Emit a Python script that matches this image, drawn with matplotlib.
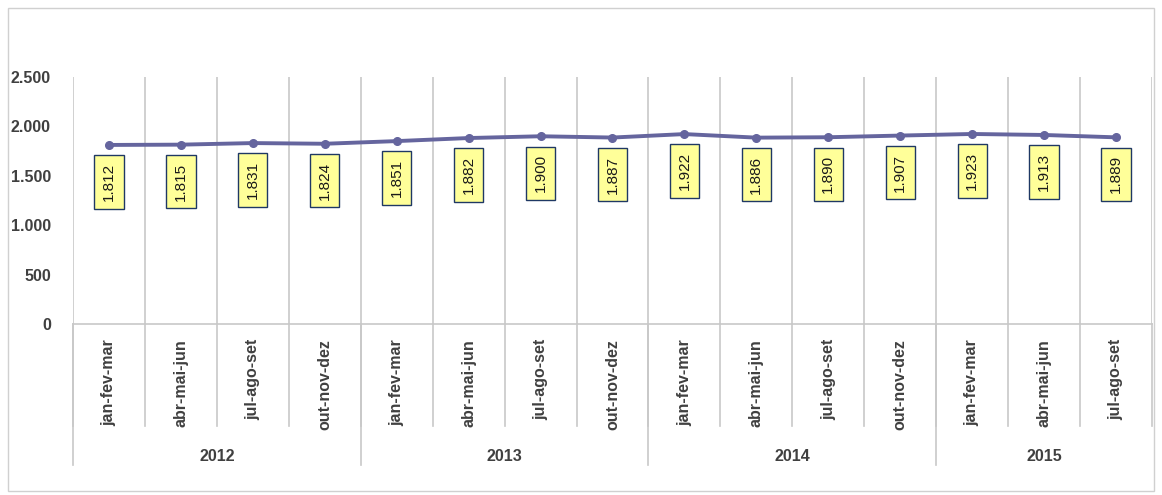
import numpy as np
import matplotlib.pyplot as plt
from matplotlib.patches import Rectangle

plt.rcParams['font.family'] = ['Liberation Sans', 'DejaVu Sans']

# Data
periods = ['jan-fev-mar', 'abr-mai-jun', 'jul-ago-set', 'out-nov-dez',
           'jan-fev-mar', 'abr-mai-jun', 'jul-ago-set', 'out-nov-dez',
           'jan-fev-mar', 'abr-mai-jun', 'jul-ago-set', 'out-nov-dez',
           'jan-fev-mar', 'abr-mai-jun', 'jul-ago-set']
years = ['2012', '2013', '2014', '2015']
year_sizes = [4, 4, 4, 3]
values = [1812, 1815, 1831, 1824, 1851, 1882, 1900, 1887,
          1922, 1886, 1890, 1907, 1923, 1913, 1889]

line_color = '#65659E'
grid_color = '#C8C8C8'
text_color = '#404040'

fig = plt.figure(figsize=(11.62, 4.95), dpi=100)
fig.patches.append(Rectangle((0.007, 0.008), 0.986, 0.976, transform=fig.transFigure,
                             fill=False, edgecolor='#D0D0D0', linewidth=1))
ax = fig.add_axes([0.0628, 0.3455, 0.9286, 0.499])

n = len(values)
x = np.arange(n)
ax.plot(x, values, color=line_color, linewidth=2.8, marker='o', markersize=5.5,
        zorder=3)

for xi, v in zip(x, values):
    txt = f'{v:,}'.replace(',', '.')
    ax.annotate(txt, (xi, v), xytext=(0, -37), textcoords='offset pixels',
                rotation=90, ha='center', va='center', fontsize=11, color='#1A1A1A',
                bbox=dict(boxstyle='square,pad=0.5', fc='#FFFF99', ec='#1F3864', lw=1))

ax.set_xlim(-0.5, n - 0.5)
ax.set_ylim(0, 2500)
ax.set_yticks(np.arange(0, 2501, 500))
ax.set_yticklabels([f'{t:,}'.replace(',', '.') for t in range(0, 2501, 500)],
                   fontsize=11.5, fontweight='bold', color=text_color)
ax.tick_params(axis='y', length=0, pad=16)
ax.tick_params(axis='x', length=0, labelbottom=False)

for s in ['top', 'right', 'left']:
    ax.spines[s].set_visible(False)
ax.spines['bottom'].set_color(grid_color)
ax.spines['bottom'].set_linewidth(1.2)

# vertical gridlines at category boundaries
for b in np.arange(-0.5, n, 1.0):
    ax.axvline(b, color=grid_color, linewidth=1.2, zorder=0)

trans = ax.get_xaxis_transform()
# category labels and their separators below axis
for i, p in enumerate(periods):
    ax.text(i, -0.06, p, rotation=90, ha='center', va='top', fontsize=11.5,
            fontweight='bold', color=text_color, transform=trans)
for b in np.arange(-0.5, n, 1.0):
    ax.plot([b, b], [0, -0.415], color=grid_color, linewidth=1.2,
            transform=trans, clip_on=False)

# year group labels
start = 0
for yr, size in zip(years, year_sizes):
    center = start + (size - 1) / 2
    ax.text(center, -0.535, yr, ha='center', va='center', fontsize=11.5,
            fontweight='bold', color=text_color, transform=trans)
    ax.plot([start - 0.5, start - 0.5], [0, -0.57], color=grid_color,
            linewidth=1.2, transform=trans, clip_on=False)
    start += size

fig.savefig('out.png', dpi=100)
